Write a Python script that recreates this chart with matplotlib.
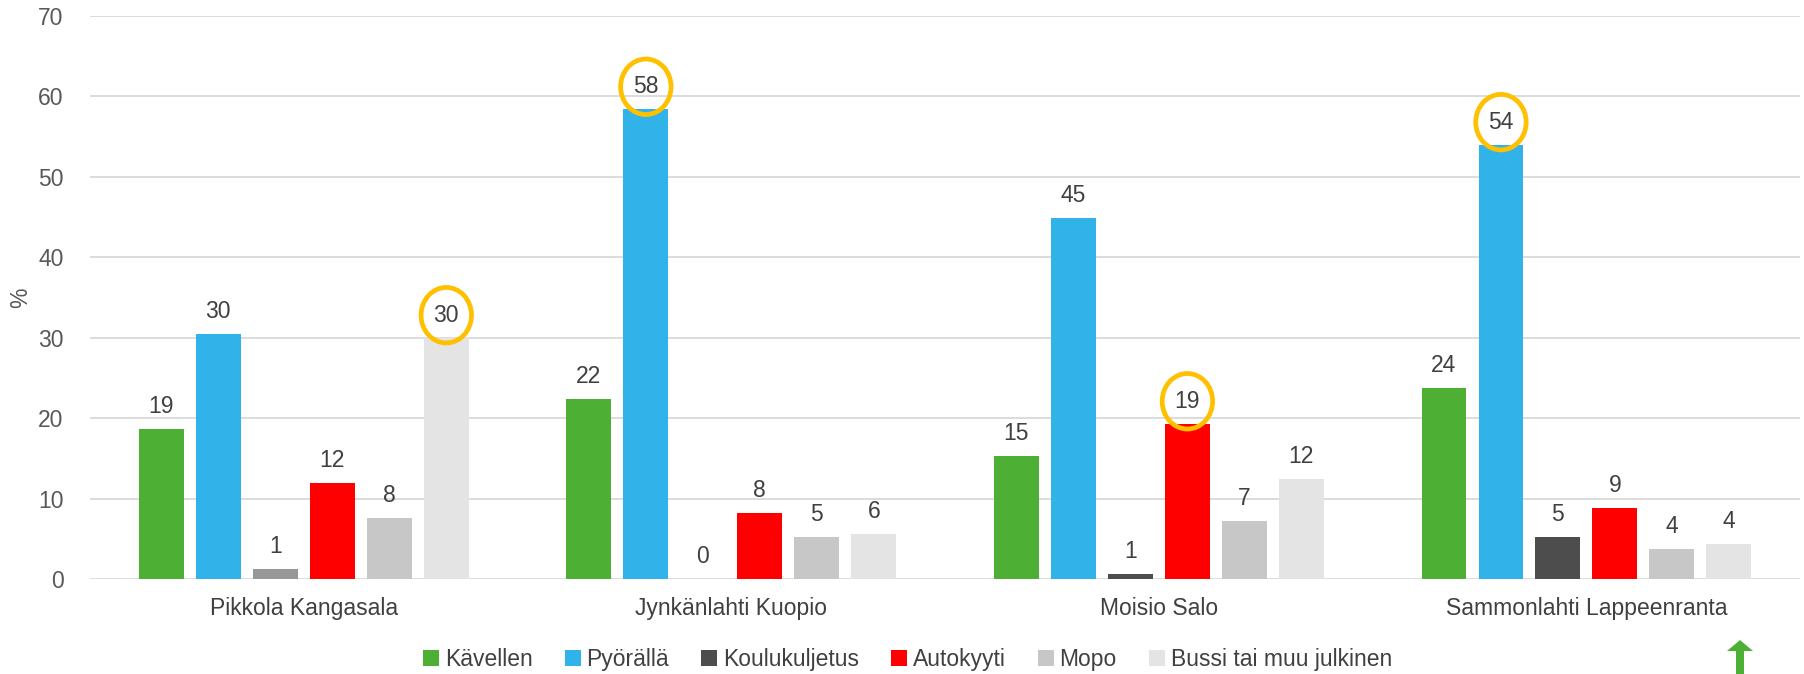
import matplotlib.pyplot as plt
import numpy as np
from matplotlib.patches import Ellipse, Polygon, Patch

plt.rcParams['font.family'] = ['Liberation Sans', 'DejaVu Sans']

# school areas and travel modes
areas = ['Pikkola Kangasala', 'Jynkänlahti Kuopio', 'Moisio Salo', 'Sammonlahti Lappeenranta']
modes = ['Kävellen', 'Pyörällä', 'Koulukuljetus', 'Autokyyti', 'Mopo', 'Bussi tai muu julkinen']
colors = ['#4EAF35', '#31B2E8', '#4D4D4D', '#FF0000', '#C7C7C7', '#E4E4E4']

# share (%) per mode, one value per area
kavellen = [18.6, 22.4, 15.3, 23.7]
pyoralla = [30.5, 58.4, 44.9, 54.0]
koulukuljetus = [1.2, 0.0, 0.6, 5.2]
autokyyti = [11.9, 8.2, 19.3, 8.8]
mopo = [7.6, 5.2, 7.2, 3.7]
bussi = [30.0, 5.6, 12.4, 4.4]
series = [kavellen, pyoralla, koulukuljetus, autokyyti, mopo, bussi]

# highlighted (circled) values: (area index, mode index)
highlights = [(0, 5), (1, 1), (2, 3), (3, 1)]

fig = plt.figure(figsize=(18.04, 6.74), dpi=100)
ax = fig.add_axes([0.0499, 0.1409, 0.948, 0.8354])

x = np.arange(len(areas))
slot = 0.1333
width = 0.105
txt = '#404040'
fs = 16.5

for j, (name, vals) in enumerate(zip(modes, series)):
    pos = x + (j - 2.5) * slot
    bar_colors = [colors[j]] * len(vals)
    if j == 2:
        bar_colors[0] = '#979797'  # first group drawn lighter in the original
    ax.bar(pos, vals, width, color=bar_colors, zorder=3)
    for px, v in zip(pos, vals):
        ax.annotate(f'{v:.0f}', (px, v), xytext=(0, 8), textcoords='offset points',
                    ha='center', va='bottom', fontsize=fs, color=txt, zorder=4)

for gi, mj in highlights:
    px = x[gi] + (mj - 2.5) * slot
    v = series[mj][gi]
    ax.add_patch(Ellipse((px, v + 2.8), 0.118, 6.9, fill=False,
                         edgecolor='#FFC000', linewidth=3.4, zorder=5, clip_on=False))

ax.set_xlim(-0.5, 3.5)
ax.set_ylim(0, 70)
ax.set_yticks(range(0, 71, 10))
ax.set_xticks(x)
ax.set_xticklabels(areas)
ax.tick_params(axis='both', length=0, labelsize=fs, colors='#595959')
ax.tick_params(axis='y', pad=19)
ax.tick_params(axis='x', pad=13)
for lab in ax.get_xticklabels():
    lab.set_color(txt)
ax.grid(axis='y', color='#D9D9D9', linewidth=1.3, zorder=0)
for s in ax.spines.values():
    s.set_visible(False)
ax.set_ylabel('%', fontsize=fs, color='#595959', labelpad=4)

handles = [Patch(facecolor=c, label=m) for m, c in zip(modes, colors)]
fig.legend(handles=handles, loc='center', bbox_to_anchor=(0.503, 0.022), ncol=6,
           frameon=False, fontsize=fs, handlelength=0.7, handleheight=0.7,
           handletextpad=0.25, columnspacing=1.4, labelcolor=txt)

# green arrow of the logo fragment in the bottom right corner
fig.patches.append(Polygon([(1727, 23), (1740, 34), (1753, 23), (1744, 23), (1744, 0),
                            (1736, 0), (1736, 23)], closed=True, transform=None,
                           facecolor='#4EAF35', edgecolor='none'))

fig.savefig('out.png', dpi=100)
